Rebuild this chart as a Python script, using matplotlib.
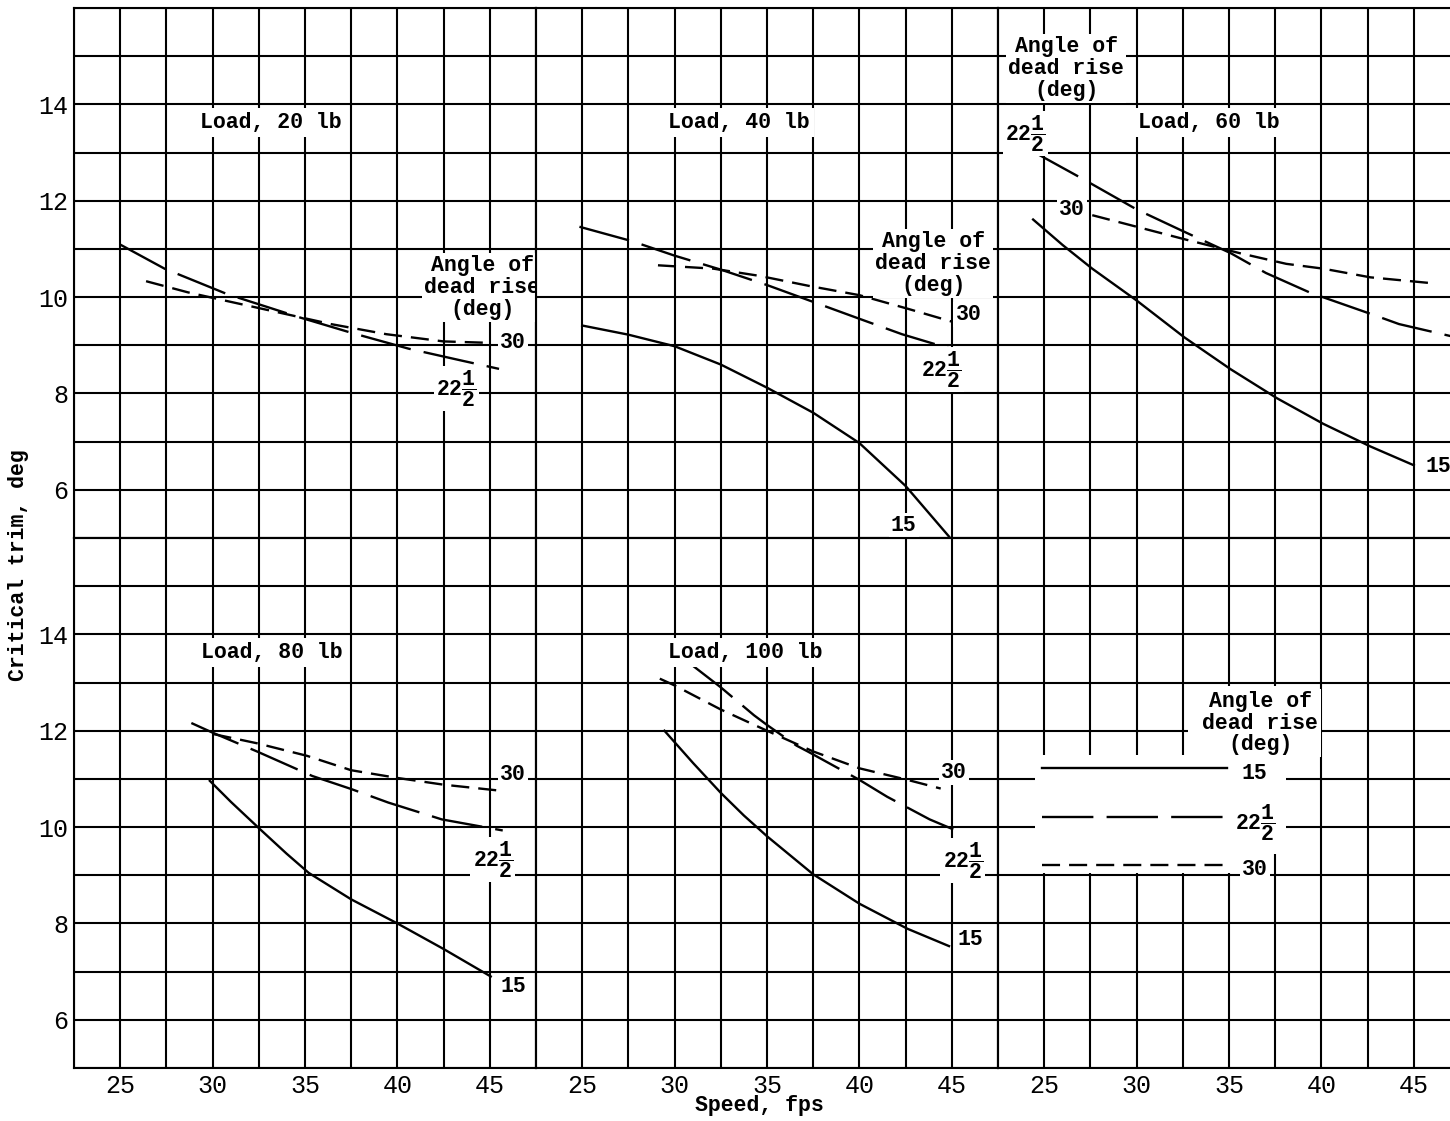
import numpy as np
import matplotlib
matplotlib.use('Agg')
import matplotlib.pyplot as plt
from matplotlib.patches import Rectangle

plt.rcParams['font.family'] = ['Liberation Mono', 'DejaVu Sans']
plt.rcParams['font.weight'] = 'bold'
plt.rcParams['mathtext.fontset'] = 'custom'
plt.rcParams['mathtext.rm'] = 'Liberation Mono:bold'
plt.rcParams['mathtext.it'] = 'Liberation Mono:bold'
plt.rcParams['mathtext.bf'] = 'Liberation Mono:bold'
plt.rcParams['lines.scale_dashes'] = False

# ---- data (speed fps, critical trim deg) ----
loads = ['Load, 20 lb', 'Load, 40 lb', 'Load, 60 lb', 'Load, 80 lb', 'Load, 100 lb']

# load 20 lb
s20_225 = [25.0, 27.4, 30.8, 34.7, 37.5, 40.6, 43.5, 45.5]
t20_225 = [11.09, 10.59, 10.06, 9.58, 9.26, 8.93, 8.68, 8.51]
s20_30 = [26.4, 28.65, 30.05, 33.0, 36.4, 39.4, 42.5, 45.0]
t20_30 = [10.33, 10.1, 9.98, 9.73, 9.44, 9.23, 9.08, 9.05]

# load 40 lb
s40_15 = [25.0, 27.5, 30.0, 32.5, 35.0, 37.5, 40.0, 42.5, 44.85]
t40_15 = [9.41, 9.22, 8.98, 8.6, 8.12, 7.6, 6.97, 6.08, 5.03]
s40_225 = [24.85, 27.7, 30.0, 32.5, 35.0, 37.5, 40.0, 42.3, 45.6]
t40_225 = [11.46, 11.16, 10.86, 10.57, 10.25, 9.9, 9.55, 9.23, 8.85]
s40_30 = [29.1, 32.1, 34.6, 37.3, 40.0, 42.6, 45.1]
t40_30 = [10.66, 10.59, 10.44, 10.23, 10.04, 9.76, 9.48]

# load 60 lb
s60_15 = [24.4, 26.0, 27.6, 30.0, 32.6, 35.1, 37.6, 40.1, 42.65, 45.0]
t60_15 = [11.61, 11.08, 10.59, 9.93, 9.16, 8.5, 7.9, 7.37, 6.9, 6.51]
s60_225 = [24.4, 27.1, 30.0, 32.5, 35.1, 37.0, 39.4, 42.9, 44.2, 47.0]
t60_225 = [13.02, 12.45, 11.82, 11.37, 10.91, 10.5, 10.09, 9.62, 9.44, 9.19]
s60_30 = [27.6, 30.4, 32.7, 35.6, 38.1, 40.1, 42.65, 46.2]
t60_30 = [11.7, 11.42, 11.19, 10.91, 10.69, 10.59, 10.41, 10.28]

# load 80 lb
s80_15 = [29.85, 31.0, 32.5, 34.0, 35.2, 37.5, 40.0, 42.5, 45.05]
t80_15 = [10.96, 10.52, 9.98, 9.45, 9.05, 8.5, 8.0, 7.47, 6.9]
s80_225 = [28.85, 30.0, 32.4, 35.4, 37.5, 39.5, 42.4, 45.7]
t80_225 = [12.16, 11.96, 11.57, 11.06, 10.79, 10.51, 10.16, 9.93]
s80_30 = [30.05, 32.4, 35.1, 37.5, 40.0, 42.5, 45.7]
t80_30 = [11.93, 11.74, 11.48, 11.18, 11.02, 10.88, 10.75]

# load 100 lb
s100_15 = [29.45, 31.0, 32.5, 33.75, 35.0, 37.5, 40.0, 42.6, 44.85]
t100_15 = [12.0, 11.33, 10.71, 10.24, 9.81, 9.02, 8.41, 7.89, 7.53]
s100_225 = [30.95, 32.5, 34.3, 35.0, 36.6, 37.2, 40.0, 41.5, 43.8, 45.65]
t100_225 = [13.36, 12.9, 12.32, 12.12, 11.69, 11.57, 10.98, 10.63, 10.16, 9.86]
s100_30 = [29.2, 30.0, 32.5, 35.0, 37.5, 40.0, 42.6, 44.4]
t100_30 = [13.08, 12.94, 12.44, 12.0, 11.57, 11.22, 10.98, 10.8]

angles = ['15', '22.5', '30']
angle_text = {'15': '15', '22.5': r'$22\dfrac{1}{2}$', '30': '30'}

xticks = [25, 30, 35, 40, 45]
yticks = [6, 8, 10, 12, 14]

curves = [
    {'22.5': (s20_225, t20_225), '30': (s20_30, t20_30)},
    {'15': (s40_15, t40_15), '22.5': (s40_225, t40_225), '30': (s40_30, t40_30)},
    {'15': (s60_15, t60_15), '22.5': (s60_225, t60_225), '30': (s60_30, t60_30)},
    {'15': (s80_15, t80_15), '22.5': (s80_225, t80_225), '30': (s80_30, t80_30)},
    {'15': (s100_15, t100_15), '22.5': (s100_225, t100_225), '30': (s100_30, t100_30)},
]

# curve label positions (speed, trim)
label_pos = [
    {'22.5': (43.2, 8.1), '30': (46.25, 9.05)},
    {'15': (42.4, 5.25), '22.5': (44.44, 8.49), '30': (45.9, 9.64)},
    {'15': (46.35, 6.48), '22.5': (23.98, 13.4), '30': (26.52, 11.82)},
    {'15': (46.25, 6.69), '22.5': (45.17, 9.33), '30': (46.25, 11.1)},
    {'15': (46.0, 7.67), '22.5': (45.6, 9.3), '30': (45.1, 11.14)},
]
load_pos = [(33.16, 13.62), (33.5, 13.62), (33.9, 13.62), (33.2, 13.62), (33.83, 13.62)]
title_pos = [(44.6, 10.2), (44.0, 10.7), (26.2, 14.75), None, None]

styles = {
    '15': dict(ls='-'),
    '22.5': dict(ls=(0, (37, 9.5))),
    '30': dict(ls=(0, (13, 6.5))),
}

FS = 15.5
box = dict(facecolor='white', edgecolor='none', pad=1.5)
title = 'Angle of\ndead rise\n(deg)'

fig = plt.figure(figsize=(14.5, 11.21), dpi=100)
W, H = 1450, 1121
axes = []
for r in range(2):
    for c in range(3):
        left = (74 + 462 * c) / W
        bottom = (H - 538) / H if r == 0 else (H - 1068) / H
        ax = fig.add_axes([left, bottom, 462 / W, 530 / H])
        ax.set_xlim(22.5, 47.5)
        ax.set_ylim(5, 16)
        ax.set_xticks(xticks)
        ax.set_xticks(np.arange(22.5, 48, 2.5), minor=True)
        ax.set_yticks(yticks)
        ax.set_yticks(np.arange(5, 16.5, 1), minor=True)
        ax.set_axisbelow(True)
        ax.grid(which='both', color='black', lw=1.5)
        ax.tick_params(which='both', length=0, labelsize=18, pad=4)
        for lab in ax.get_xticklabels() + ax.get_yticklabels():
            lab.set_fontweight('normal')
        if r == 0:
            ax.tick_params(labelbottom=False)
        if c > 0:
            ax.tick_params(labelleft=False)
        for sp in ax.spines.values():
            sp.set_linewidth(1.5)
        axes.append(ax)

for i in range(5):
    ax = axes[i]
    for a in angles:
        if a in curves[i]:
            s, t = curves[i][a]
            ax.plot(s, t, color='black', lw=1.7, zorder=3, **styles[a])
            lx, ly = label_pos[i][a]
            ax.text(lx, ly, angle_text[a], fontsize=FS, ha='center', va='center',
                    bbox=box, zorder=4, clip_on=False)
    ax.text(*load_pos[i], loads[i], fontsize=FS, ha='center', va='center',
            bbox=dict(facecolor='white', edgecolor='none', pad=3), zorder=4)
    if title_pos[i] is not None:
        ax.text(*title_pos[i], title, fontsize=FS, ha='center', va='center',
                multialignment='center', linespacing=1.05, bbox=box, zorder=4,
                clip_on=False)

# key panel
kax = axes[5]
kax.add_patch(Rectangle((24.5, 9.04), 11.7, 2.46, facecolor='white', edgecolor='none', zorder=1))
kax.add_patch(Rectangle((32.8, 9.45), 5.3, 3.48, facecolor='white', edgecolor='none', zorder=1))
key_trim = [11.22, 10.2, 9.22]
for a, ky in zip(angles, key_trim):
    kax.plot([24.9, 34.9], [ky, ky], color='black', lw=1.7, zorder=3, **styles[a])
    kax.text(36.4, ky - 0.1, angle_text[a], fontsize=FS, ha='center', va='center',
             bbox=box, zorder=4)
kax.text(36.7, 12.16, title, fontsize=FS, ha='center', va='center',
         multialignment='center', linespacing=1.05, bbox=box, zorder=4)

fig.text(759 / W, 1 - 1106 / H, 'Speed, fps', fontsize=FS, ha='center', va='center')
fig.text(19 / W, 1 - 565 / H, 'Critical trim, deg', fontsize=FS, ha='center',
         va='center', rotation=90)

fig.savefig('out.png', dpi=100)
